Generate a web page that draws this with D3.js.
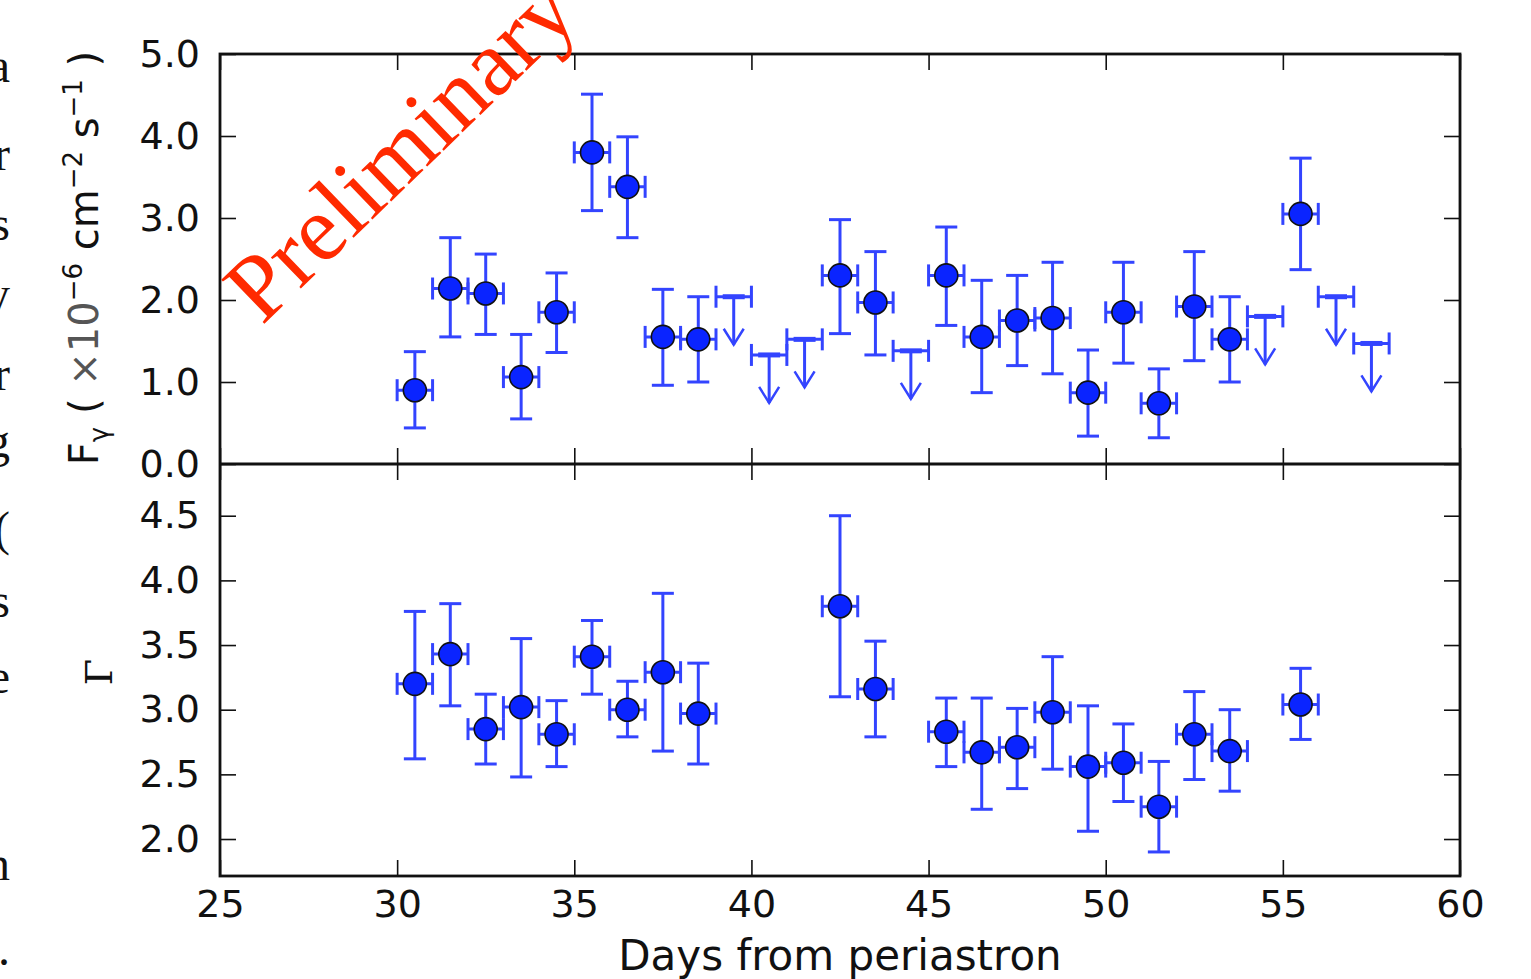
<!DOCTYPE html>
<html>
<head>
<meta charset="utf-8">
<style>
  html, body { margin: 0; padding: 0; background: #fff; }
  svg { display: block; }
  text { font-family: "DejaVu Sans", sans-serif; fill: #111; }
</style>
</head>
<body>
<svg width="1531" height="979"></svg>
<script src="https://cdn.jsdelivr.net/npm/d3@7"></script>
<script>
// detected points (day centre, bins are 1 day wide)
var days = [30.5, 31.5, 32.5, 33.5, 34.5, 35.5, 36.5, 37.5, 38.5,
            42.5, 43.5, 45.5, 46.5, 47.5, 48.5, 49.5, 50.5, 51.5, 52.5, 53.5, 55.5];
var flux   = [0.90, 2.14, 2.08, 1.06, 1.85, 3.80, 3.38, 1.55, 1.52,
              2.30, 1.97, 2.30, 1.55, 1.75, 1.78, 0.87, 1.85, 0.74, 1.92, 1.52, 3.05];
var fluxLo = [0.44, 1.55, 1.58, 0.55, 1.36, 3.09, 2.76, 0.96, 1.00,
              1.59, 1.33, 1.69, 0.87, 1.20, 1.10, 0.34, 1.23, 0.32, 1.26, 1.00, 2.37];
var fluxHi = [1.37, 2.76, 2.56, 1.58, 2.33, 4.51, 3.99, 2.13, 2.04,
              2.98, 2.59, 2.89, 2.24, 2.30, 2.46, 1.39, 2.46, 1.16, 2.59, 2.04, 3.73];
var gamma   = [3.20, 3.43, 2.85, 3.02, 2.81, 3.41, 3.00, 3.29, 2.97,
               3.80, 3.16, 2.83, 2.67, 2.71, 2.98, 2.56, 2.59, 2.25, 2.81, 2.68, 3.04];
var gammaLo = [2.62, 3.03, 2.58, 2.48, 2.56, 3.12, 2.79, 2.68, 2.58,
               3.10, 2.79, 2.56, 2.23, 2.39, 2.54, 2.06, 2.29, 1.90, 2.46, 2.37, 2.77];
var gammaHi = [3.76, 3.82, 3.12, 3.55, 3.07, 3.69, 3.22, 3.90, 3.36,
               4.50, 3.53, 3.09, 3.09, 3.01, 3.41, 3.03, 2.89, 2.60, 3.14, 3.00, 3.32];

// upper limits
var ulDays = [39.5, 40.5, 41.5, 44.5, 54.5, 56.5, 57.5];
var ulFlux = [2.04, 1.33, 1.52, 1.38, 1.80, 2.04, 1.47];

var xTicks = [25, 30, 35, 40, 45, 50, 55, 60];
var fluxTicks = [0, 1, 2, 3, 4, 5];
var gammaTicks = [2.0, 2.5, 3.0, 3.5, 4.0, 4.5];

// margin letters from the page text next to the figure
var sideLetters = ["a", "r", "s", "y", "r", "g", "(", "s", "e", "n", "."];
var sideY = [82, 170, 240, 310, 390, 457, 545, 617, 693, 880, 965];

var svg = d3.select("svg");
var mLeft = 220, mRight = 1460, mTop = 54, mMid = 464, mBottom = 876;
var binHalf = 0.5;
var errColor = "#3344ff", dotColor = "#0a24ff";

var x = d3.scaleLinear().domain([25, 60]).range([mLeft, mRight]);
var yF = d3.scaleLinear().domain([0, 5]).range([mMid, mTop]);
var yG = d3.scaleLinear().domain([1.714, 4.9]).range([mBottom, mMid]);

// side text
svg.selectAll("text.side")
  .data(sideLetters)
  .enter().append("text")
  .attr("class", "side")
  .attr("x", 10)
  .attr("y", function(d, i) { return sideY[i]; })
  .attr("text-anchor", "end")
  .style("font-family", "'Liberation Serif', serif")
  .style("font-size", "48px")
  .text(function(d) { return d; });

function panel(yScale, yt, y0, y1, fmt) {
  var g = svg.append("g");
  // ticks, inside on all sides
  g.append("g").attr("transform", "translate(0," + y1 + ")")
    .call(d3.axisBottom(x).tickValues(xTicks).tickSize(-16).tickFormat(""))
    .call(function(a) { a.select(".domain").remove(); });
  g.append("g").attr("transform", "translate(0," + y0 + ")")
    .call(d3.axisTop(x).tickValues(xTicks).tickSize(-16).tickFormat(""))
    .call(function(a) { a.select(".domain").remove(); });
  g.append("g").attr("transform", "translate(" + mLeft + ",0)")
    .call(d3.axisLeft(yScale).tickValues(yt).tickSize(-16).tickPadding(20).tickFormat(fmt))
    .call(function(a) {
      a.select(".domain").remove();
      a.selectAll("text").style("font-size", "38px").style("font-family", "'DejaVu Sans'").attr("fill", "#111");
    });
  g.append("g").attr("transform", "translate(" + mRight + ",0)")
    .call(d3.axisRight(yScale).tickValues(yt).tickSize(-16).tickFormat(""))
    .call(function(a) { a.select(".domain").remove(); });
  g.selectAll(".tick line").attr("stroke", "#111").attr("stroke-width", 1.6);
  return g;
}

panel(yF, fluxTicks, mTop, mMid, d3.format(".1f"));
panel(yG, gammaTicks, mMid, mBottom, d3.format(".1f"));

// x tick labels
svg.append("g").attr("transform", "translate(0," + mBottom + ")")
  .call(d3.axisBottom(x).tickValues(xTicks).tickSize(0).tickPadding(14).tickFormat(d3.format("d")))
  .call(function(a) {
    a.select(".domain").remove();
    a.selectAll("text").style("font-size", "38px").style("font-family", "'DejaVu Sans'").attr("fill", "#111");
  });

function errorBars(g, yScale, xs, ys, lo, hi) {
  var cap = 11;
  xs.forEach(function(d, i) {
    var cx = x(d), cy = yScale(ys[i]);
    var x0 = x(d - binHalf), x1 = x(d + binHalf);
    var ylo = yScale(lo[i]), yhi = yScale(hi[i]);
    var lines = [
      [cx, ylo, cx, yhi],
      [cx - cap, ylo, cx + cap, ylo],
      [cx - cap, yhi, cx + cap, yhi],
      [x0, cy, x1, cy],
      [x0, cy - cap, x0, cy + cap],
      [x1, cy - cap, x1, cy + cap]
    ];
    lines.forEach(function(l) {
      g.append("line").attr("x1", l[0]).attr("y1", l[1]).attr("x2", l[2]).attr("y2", l[3])
        .attr("stroke", errColor).attr("stroke-width", 3);
    });
  });
  g.selectAll("circle.pt")
    .data(xs)
    .enter().append("circle")
    .attr("class", "pt")
    .attr("cx", function(d) { return x(d); })
    .attr("cy", function(d, i) { return yScale(ys[i]); })
    .attr("r", 11.5)
    .attr("fill", dotColor)
    .attr("stroke", "#111")
    .attr("stroke-width", 1.6);
}

var gF = svg.append("g");
errorBars(gF, yF, days, flux, fluxLo, fluxHi);
var gG = svg.append("g");
errorBars(gG, yG, days, gamma, gammaLo, gammaHi);

// upper limits
var gU = svg.append("g");
ulDays.forEach(function(d, i) {
  var cx = x(d), cy = yF(ulFlux[i]);
  var x0 = x(d - binHalf), x1 = x(d + binHalf);
  var len = 48, cap = 11;
  var lines = [
    [x0, cy, x1, cy],
    [x0, cy - cap, x0, cy + cap],
    [x1, cy - cap, x1, cy + cap],
    [cx, cy, cx, cy + len]
  ];
  lines.forEach(function(l) {
    gU.append("line").attr("x1", l[0]).attr("y1", l[1]).attr("x2", l[2]).attr("y2", l[3])
      .attr("stroke", errColor).attr("stroke-width", 3);
  });
  gU.append("line").attr("x1", cx - cap).attr("y1", cy).attr("x2", cx + cap).attr("y2", cy)
    .attr("stroke", errColor).attr("stroke-width", 5);
  gU.append("path")
    .attr("d", "M" + (cx - 10) + "," + (cy + len - 16) + "L" + cx + "," + (cy + len) + "L" + (cx + 10) + "," + (cy + len - 16))
    .attr("fill", "none").attr("stroke", errColor).attr("stroke-width", 2.5);
});

// frames
svg.append("rect").attr("x", mLeft).attr("y", mTop).attr("width", mRight - mLeft).attr("height", mBottom - mTop)
  .attr("fill", "none").attr("stroke", "#111").attr("stroke-width", 2.8);
svg.append("line").attr("x1", mLeft).attr("x2", mRight).attr("y1", mMid).attr("y2", mMid)
  .attr("stroke", "#111").attr("stroke-width", 2.8);

// axis labels
svg.append("text")
  .attr("x", 840).attr("y", 970)
  .attr("text-anchor", "middle")
  .style("font-size", "42px")
  .text("Days from periastron");

var yl = svg.append("text")
  .attr("transform", "translate(98,258) rotate(-90)")
  .attr("text-anchor", "middle")
  .style("font-size", "40px");
yl.append("tspan").text("F");
yl.append("tspan").attr("dy", 10).style("font-size", "26px").text("γ");
yl.append("tspan").attr("dy", -10).text(" (  ");
yl.append("tspan").attr("fill", "#555").text("×10");
yl.append("tspan").attr("dy", -16).style("font-size", "26px").text("−6");
yl.append("tspan").attr("dy", 16).text("  cm");
yl.append("tspan").attr("dy", -16).style("font-size", "26px").text("−2");
yl.append("tspan").attr("dy", 16).text("  s");
yl.append("tspan").attr("dy", -16).style("font-size", "26px").text("−1");
yl.append("tspan").attr("dy", 16).text(" )");

svg.append("text")
  .attr("transform", "translate(112,672) rotate(-90)")
  .attr("text-anchor", "middle")
  .style("font-family", "'DejaVu Serif', serif")
  .style("font-size", "38px")
  .text("Γ");

// watermark
svg.append("text")
  .attr("transform", "translate(262,326) rotate(-44)")
  .style("font-family", "'Liberation Serif', serif")
  .style("font-size", "94px")
  .style("fill", "#ff2a00")
  .text("Preliminary");
</script>
</body>
</html>
